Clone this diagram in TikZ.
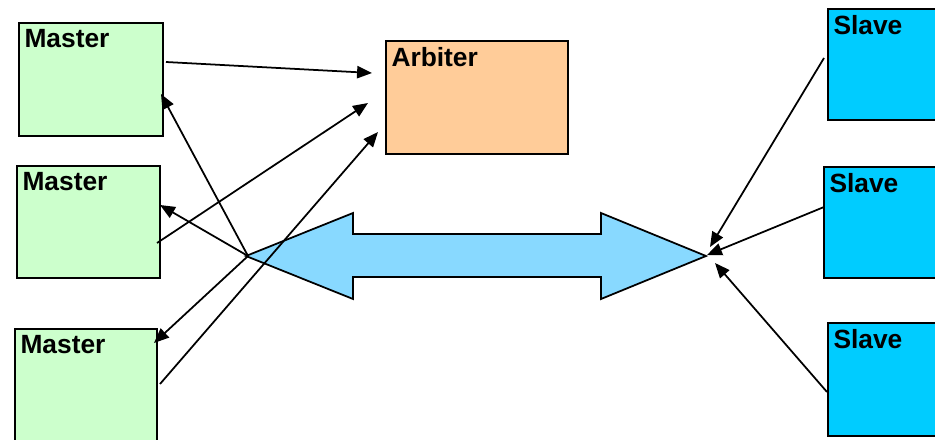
\documentclass[tikz,border=0pt]{standalone}
\usepackage{fontspec}
\setmainfont{Liberation Sans}
\usetikzlibrary{arrows.meta}
\definecolor{mastergreen}{HTML}{CCFFCC}
\definecolor{arbiterorange}{HTML}{FFCC99}
\definecolor{slavecyan}{HTML}{00CCFF}
\definecolor{buslightblue}{HTML}{88D9FF}
\tikzset{
	unit/.style = {draw, line width = 1pt, anchor = north west, inner sep = 0pt,
		minimum height = 2.24cm},
	title/.style = {label = {[anchor = north west, inner xsep = 3.5pt, inner ysep = 4pt,
		font = \fontsize{15}{17}\selectfont\bfseries]north west:#1}},
	sig/.style = {line width = 1pt, -{Triangle[length = 8.5pt, width = 7pt]}}
}

\begin{document}
\begin{tikzpicture}[x = 0.02cm, y = -0.02cm]
	\useasboundingbox (0,0) rectangle (935,439);

	\node[unit, fill = mastergreen, minimum width = 2.88cm, minimum height = 2.26cm, title = Master] (master1) at (18,22) {};
	\node[unit, fill = mastergreen, minimum width = 2.86cm, title = Master] (master2) at (16,165) {};
	\node[unit, fill = mastergreen, minimum width = 2.84cm, minimum height = 2.4cm, title = Master] (master3) at (14,328) {};
	\node[unit, fill = arbiterorange, minimum width = 3.64cm, minimum height = 2.26cm, title = Arbiter] (arbiter) at (385,40) {};

	\node[unit, fill = slavecyan, minimum width = 2.4cm, minimum height = 2.22cm, title = Slave] (slave1) at (827,8) {};
	\node[unit, fill = slavecyan, minimum width = 2.48cm, minimum height = 2.22cm, title = Slave] (slave2) at (823,166) {};
	\node[unit, fill = slavecyan, minimum width = 2.4cm, minimum height = 2.26cm, title = Slave] (slave3) at (827,322) {};

	\coordinate (busL) at (246,256);
	\coordinate (busR) at (706,256);
	\draw[line width = 1pt, fill = buslightblue] (busL) -- (353,213) -- (353,234) -- (601,234) -- (601,213)
		-- (busR) -- (601,299) -- (601,277) -- (353,277) -- (353,299) -- cycle;

	\coordinate (m1out) at (166,62);
	\coordinate (m2out) at (157,243);
	\coordinate (m3out) at (160,384);
	\coordinate (arbin1) at (372,73);
	\coordinate (arbin2) at (368,103);
	\coordinate (arbin3) at (378,132);
	\coordinate (m1in) at (161,94);
	\coordinate (m2in) at (160,205);
	\coordinate (m3in) at (154,343);
	\coordinate (busL') at (248,256);

	\draw[sig] (m1out) -- (arbin1);
	\draw[sig] (m2out) -- (arbin2);
	\draw[sig] (m3out) -- (arbin3);
	\draw[sig] (busL') -- (m1in);
	\draw[sig] (busL') -- (m2in);
	\draw[sig] (busL') -- (m3in);

	\coordinate (s1out) at (824,58);
	\coordinate (s2out) at (824,207);
	\coordinate (s3out) at (827,392);
	\draw[sig] (s1out) -- (710,247);
	\draw[sig] (s2out) -- (707,255);
	\draw[sig] (s3out) -- (715,263);
\end{tikzpicture}
\end{document}
